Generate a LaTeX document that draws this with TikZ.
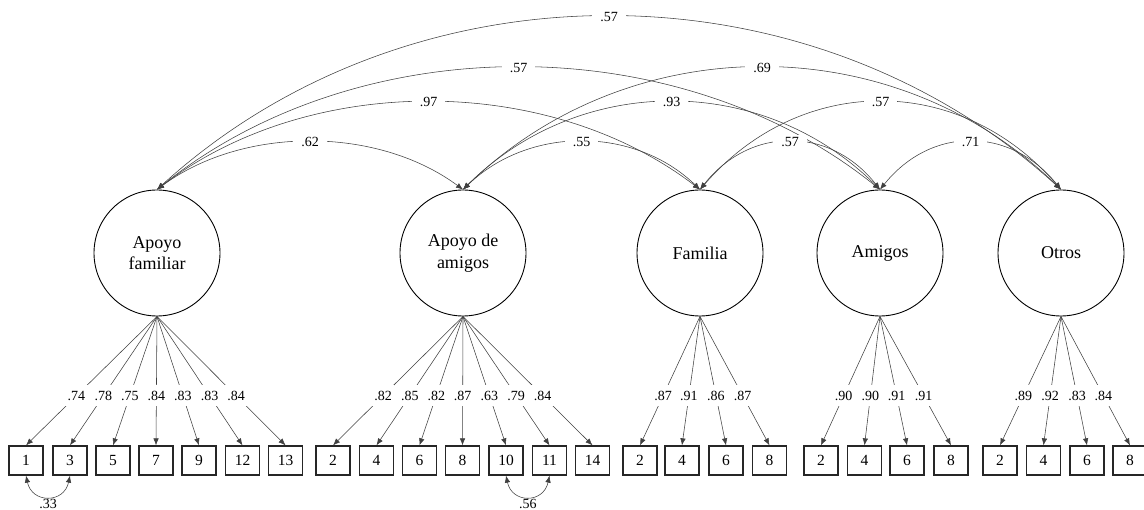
\documentclass[tikz,border=0pt]{standalone}
\usepackage{fontspec}
\setmainfont{Liberation Serif}
\usetikzlibrary{arrows.meta}
\tikzset{
  latent/.style={circle, draw=black, line width=0.9pt, minimum size=126pt, inner sep=0pt, align=center,
    font=\fontsize{18}{21.6}\selectfont},
  obsbox/.style={rectangle, draw=black!85, line width=1.3pt, minimum width=34pt, minimum height=29pt, inner sep=0pt,
    font=\fontsize{15.5}{18}\selectfont},
  load/.style={draw=black!75, line width=0.55pt, -{Latex[length=7pt,width=5.5pt]}},
  covarc/.style={draw=black!75, line width=0.55pt, {Latex[length=7pt,width=5.5pt]}-{Latex[length=7pt,width=5.5pt]}},
  ll/.style={pos=0.615, fill=white, inner xsep=2.5pt, inner ysep=6pt, font=\fontsize{14}{16}\selectfont},
  al/.style={pos=0.5, fill=white, inner xsep=8pt, inner ysep=2pt, font=\fontsize{14}{16}\selectfont},
  cl/.style={pos=0.5, below=1pt, inner sep=1pt, font=\fontsize{14}{16}\selectfont},
}
\begin{document}
\begin{tikzpicture}[x=1pt,y=-1pt]
\useasboundingbox (0,0) rectangle (1144,510);
% latent factors
\node[latent] (AF) at (157,253) {Apoyo\\familiar};
\node[latent] (AA) at (463,253) {Apoyo de\\amigos};
\node[latent] (FA) at (700,253) {Familia};
\node[latent] (AM) at (880,253) {Amigos};
\node[latent] (OT) at (1061,253) {Otros};
% correlations among factors
\draw[covarc] (AF.north) .. controls (410,-41) and (808,-41) .. node[al]{.57} (OT.north);
\draw[covarc] (AF.north) .. controls (359,27) and (678,27) .. node[al]{.57} (AM.north);
\draw[covarc] (AF.north) .. controls (309,73) and (548,73) .. node[al]{.97} (FA.north);
\draw[covarc] (AF.north) .. controls (243,126) and (377,126) .. node[al]{.62} (AA.north);
\draw[covarc] (AA.north) .. controls (630,27) and (894,27) .. node[al]{.69} (OT.north);
\draw[covarc] (AA.north) .. controls (580,73) and (763,73) .. node[al]{.93} (AM.north);
\draw[covarc] (AA.north) .. controls (529,126) and (634,126) .. node[al]{.55} (FA.north);
\draw[covarc] (FA.north) .. controls (801,73) and (960,73) .. node[al]{.57} (OT.north);
\draw[covarc] (FA.north) .. controls (750,126) and (830,126) .. node[al]{.57} (AM.north);
\draw[covarc] (AM.north) .. controls (931,126) and (1010,126) .. node[al]{.71} (OT.north);
% indicators and loadings
\foreach \n/\x/\l in {1/26/.74, 3/70/.78, 5/113/.75, 7/156/.84, 9/199/.83, 12/242.5/.83, 13/285.5/.84}{
  \node[obsbox] (af\n) at (\x,460.5) {\n};
  \draw[load] (AF.south) -- node[ll]{\l} (af\n.north);
}
\foreach \n/\x/\l in {2/333/.82, 4/376.5/.85, 6/419.5/.82, 8/462.5/.87, 10/506/.63, 11/549.5/.79, 14/592.5/.84}{
  \node[obsbox] (aa\n) at (\x,460.5) {\n};
  \draw[load] (AA.south) -- node[ll]{\l} (aa\n.north);
}
\foreach \n/\x/\l in {2/640/.87, 4/682/.91, 6/726/.86, 8/769.5/.87}{
  \node[obsbox] (fa\n) at (\x,460.5) {\n};
  \draw[load] (FA.south) -- node[ll]{\l} (fa\n.north);
}
\foreach \n/\x/\l in {2/821/.90, 4/864.5/.90, 6/907/.91, 8/951/.91}{
  \node[obsbox] (am\n) at (\x,460.5) {\n};
  \draw[load] (AM.south) -- node[ll]{\l} (am\n.north);
}
\foreach \n/\x/\l in {2/1000/.89, 4/1043.5/.92, 6/1087/.83, 8/1130/.84}{
  \node[obsbox] (ot\n) at (\x,460.5) {\n};
  \draw[load] (OT.south) -- node[ll]{\l} (ot\n.north);
}
% error covariances
\draw[covarc] (af1.south) .. controls +(6,28) and +(-6,28) .. node[cl]{.33} (af3.south);
\draw[covarc] (aa10.south) .. controls +(6,28) and +(-6,28) .. node[cl]{.56} (aa11.south);
\end{tikzpicture}
\end{document}
